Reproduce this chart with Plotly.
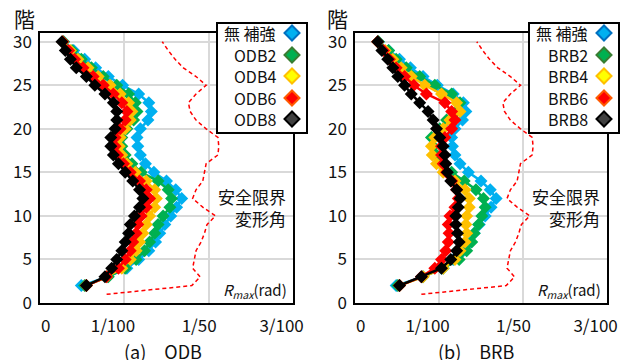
import plotly.graph_objects as go

# ---------------- data ----------------
floors = list(range(2, 31))          # floors 2..30
limit_floors = list(range(1, 31))    # floors 1..30

unreinforced = [0.0049, 0.0080, 0.0103, 0.0117, 0.0129, 0.0137, 0.0142, 0.0148, 0.0155, 0.0162,
                0.0168, 0.0161, 0.0150, 0.0135, 0.0125, 0.0119, 0.0116, 0.0115, 0.0119, 0.0128,
                0.0132, 0.0129, 0.0117, 0.0098, 0.0081, 0.0066, 0.0053, 0.0040, 0.0028]

odb2 = [0.0053, 0.0081, 0.0101, 0.0114, 0.0124, 0.0130, 0.0136, 0.0140, 0.0146, 0.0154,
        0.0156, 0.0152, 0.0140, 0.0120, 0.0109, 0.0101, 0.0097, 0.0097, 0.0103, 0.0111,
        0.0115, 0.0113, 0.0105, 0.0091, 0.0075, 0.0061, 0.0049, 0.0038, 0.0028]
odb4 = [0.0055, 0.0079, 0.0097, 0.0107, 0.0114, 0.0118, 0.0122, 0.0126, 0.0130, 0.0136,
        0.0138, 0.0136, 0.0126, 0.0113, 0.0103, 0.0097, 0.0094, 0.0095, 0.0101, 0.0107,
        0.0109, 0.0105, 0.0095, 0.0083, 0.0069, 0.0057, 0.0045, 0.0036, 0.0027]
odb6 = [0.0055, 0.0079, 0.0093, 0.0101, 0.0107, 0.0110, 0.0114, 0.0116, 0.0120, 0.0126,
        0.0130, 0.0126, 0.0118, 0.0107, 0.0099, 0.0092, 0.0089, 0.0089, 0.0095, 0.0101,
        0.0103, 0.0097, 0.0087, 0.0075, 0.0063, 0.0051, 0.0041, 0.0034, 0.0027]
odb8 = [0.0055, 0.0077, 0.0085, 0.0091, 0.0097, 0.0101, 0.0105, 0.0107, 0.0112, 0.0118,
        0.0122, 0.0118, 0.0110, 0.0101, 0.0093, 0.0087, 0.0084, 0.0084, 0.0089, 0.0091,
        0.0091, 0.0087, 0.0077, 0.0065, 0.0055, 0.0043, 0.0036, 0.0030, 0.0026]

brb2 = [0.0051, 0.0081, 0.0105, 0.0124, 0.0133, 0.0139, 0.0142, 0.0147, 0.0151, 0.0155,
        0.0153, 0.0144, 0.0130, 0.0115, 0.0103, 0.0097, 0.0093, 0.0091, 0.0101, 0.0109,
        0.0121, 0.0125, 0.0115, 0.0095, 0.0077, 0.0061, 0.0049, 0.0040, 0.0028]
brb4 = [0.0053, 0.0081, 0.0105, 0.0119, 0.0125, 0.0131, 0.0133, 0.0132, 0.0133, 0.0136,
        0.0136, 0.0131, 0.0119, 0.0105, 0.0097, 0.0092, 0.0091, 0.0095, 0.0105, 0.0113,
        0.0125, 0.0121, 0.0103, 0.0083, 0.0067, 0.0055, 0.0045, 0.0036, 0.0027]
brb6 = [0.0053, 0.0079, 0.0095, 0.0103, 0.0108, 0.0111, 0.0112, 0.0111, 0.0113, 0.0119,
        0.0123, 0.0121, 0.0115, 0.0109, 0.0105, 0.0103, 0.0103, 0.0107, 0.0115, 0.0119,
        0.0115, 0.0107, 0.0085, 0.0070, 0.0059, 0.0049, 0.0041, 0.0034, 0.0027]
brb8 = [0.0053, 0.0079, 0.0103, 0.0114, 0.0121, 0.0124, 0.0122, 0.0120, 0.0120, 0.0123,
        0.0125, 0.0121, 0.0114, 0.0110, 0.0108, 0.0107, 0.0105, 0.0101, 0.0097, 0.0093,
        0.0087, 0.0077, 0.0067, 0.0059, 0.0051, 0.0045, 0.0039, 0.0032, 0.0027]

limit = [0.0079, 0.0180, 0.0190, 0.0181, 0.0183, 0.0185, 0.0191, 0.0195, 0.0198, 0.0208,
         0.0193, 0.0181, 0.0185, 0.0193, 0.0195, 0.0197, 0.0211, 0.0212, 0.0211, 0.0197,
         0.0185, 0.0178, 0.0176, 0.0185, 0.0197, 0.0185, 0.0170, 0.0160, 0.0152, 0.0145]

NB = "\u00a0"
x_tickvals = [0, 0.01, 0.02, 0.03]
# padded like the original's fraction number format
x_ticktext = [NB * 3 + "0", "1/100" + NB * 6, "1/50" + NB * 5, "3/100" + NB * 6]
y_tickvals = [0, 5, 10, 15, 20, 25, 30]

odb_names = ["無 補強", "ODB2", "ODB4", "ODB6", "ODB8"]
brb_names = ["無 補強", "BRB2", "BRB4", "BRB6", "BRB8"]

# ---------------- style ----------------
W, H = 630, 360
FONT = "Noto Sans CJK JP, Noto Sans, sans-serif"
line_colors = ["#00B0F0", "#00B050", "#FFC000", "#FF0000", "#000000"]
leg_fill = ["#00B0F0", "#00B050", "#FFFF00", "#FF0000", "#404040"]
leg_edge = ["#0070C0", "#3A7D32", "#FFC000", "#FF5A00", "#000000"]


def PX(x):
    return x / W


def PY(y):
    return 1 - y / H


fig = go.Figure()

panels = [
    ("x", "y", [unreinforced, odb2, odb4, odb6, odb8], odb_names),
    ("x2", "y2", [unreinforced, brb2, brb4, brb6, brb8], brb_names),
]

for xa, ya, series, names in panels:
    fig.add_trace(go.Scatter(x=limit, y=limit_floors, xaxis=xa, yaxis=ya, mode="lines",
                             line=dict(color="#FF0000", width=1.5, dash="4px,3px"),
                             showlegend=False, hoverinfo="skip"))
    for vals, name, col in zip(series, names, line_colors):
        fig.add_trace(go.Scatter(x=vals, y=floors, xaxis=xa, yaxis=ya, name=name,
                                 mode="lines+markers",
                                 line=dict(color=col, width=2.5),
                                 marker=dict(symbol="diamond", size=10, color=col,
                                             line=dict(width=0)),
                                 showlegend=False))

axis_common = dict(showline=True, linecolor="#000000", linewidth=1.5, mirror=True,
                   showgrid=True, gridcolor="#D9D9D9", gridwidth=1.5, zeroline=False,
                   automargin=False, ticklabeloverflow="allow",
                   ticks="", tickfont=dict(family=FONT, size=17, color="#111111"))

ydom = [57 / H, 327 / H]
fig.update_layout(
    width=W, height=H, margin=dict(l=0, r=0, t=0, b=0, autoexpand=False),
    paper_bgcolor="white", plot_bgcolor="white", showlegend=False,
    xaxis=dict(domain=[40 / W, 293 / W], range=[0, 0.03], tickvals=x_tickvals,
               ticktext=x_ticktext, anchor="y", ticklabelstandoff=7, **axis_common),
    yaxis=dict(domain=ydom, range=[0, 31], tickvals=y_tickvals, anchor="x",
               ticklabelstandoff=3, **axis_common),
    xaxis2=dict(domain=[355 / W, 607 / W], range=[0, 0.03], tickvals=x_tickvals,
                ticktext=x_ticktext, anchor="y2", ticklabelstandoff=7, **axis_common),
    yaxis2=dict(domain=ydom, range=[0, 31], tickvals=y_tickvals, anchor="x2",
                ticklabelstandoff=3, **axis_common),
)

shapes = []
annotations = []

# legend boxes, drawn by hand (text left, symbol right, as in the original)
legend_rows = [33, 55, 76, 98, 119]
for box_left, names in [(217, odb_names), (529, brb_names)]:
    shapes.append(dict(type="rect", xref="paper", yref="paper",
                       x0=PX(box_left), x1=PX(box_left + 90),
                       y0=PY(133), y1=PY(23),
                       fillcolor="white", line=dict(color="#000000", width=2), layer="above"))
    for i, name in enumerate(names):
        cy = legend_rows[i]
        cx = box_left + 75
        r = 7.5
        path = (f"M {PX(cx - r)},{PY(cy)} L {PX(cx)},{PY(cy - r)} "
                f"L {PX(cx + r)},{PY(cy)} L {PX(cx)},{PY(cy + r)} Z")
        shapes.append(dict(type="path", xref="paper", yref="paper", path=path,
                           fillcolor=leg_fill[i], line=dict(color=leg_edge[i], width=2),
                           layer="above"))
        annotations.append(dict(text=name, xref="paper", yref="paper",
                                x=PX(box_left + 61), y=PY(cy), xanchor="right", yanchor="middle",
                                showarrow=False, font=dict(family=FONT, size=16, color="#111111")))

for plot_right, left_lab, title_cx, title in [(293, 24, 163, "(a)　ODB"), (607, 337, 476, "(b)　BRB")]:
    annotations.append(dict(text="階", xref="paper", yref="paper", x=PX(left_lab), y=PY(18),
                            xanchor="center", yanchor="middle", showarrow=False,
                            font=dict(family=FONT, size=21, color="#111111")))
    annotations.append(dict(text="安全限界<br>変形角", xref="paper", yref="paper",
                            x=PX(plot_right - 5), y=PY(208), xanchor="right", yanchor="middle",
                            align="right", showarrow=False,
                            font=dict(family=FONT, size=17, color="#111111")))
    annotations.append(dict(text="<i>R</i><sub><i>max</i></sub>(rad)", xref="paper", yref="paper",
                            x=PX(plot_right - 4), y=PY(290), xanchor="right", yanchor="middle",
                            showarrow=False, font=dict(family=FONT, size=15, color="#111111")))
    annotations.append(dict(text=title, xref="paper", yref="paper", x=PX(title_cx), y=PY(351),
                            xanchor="center", yanchor="middle", showarrow=False,
                            font=dict(family=FONT, size=18, color="#111111")))

fig.update_layout(shapes=shapes, annotations=annotations)

fig.write_html("out.html", config={"displayModeBar": False},
               post_script="document.body.style.margin='0px';document.body.style.overflow='hidden';")
